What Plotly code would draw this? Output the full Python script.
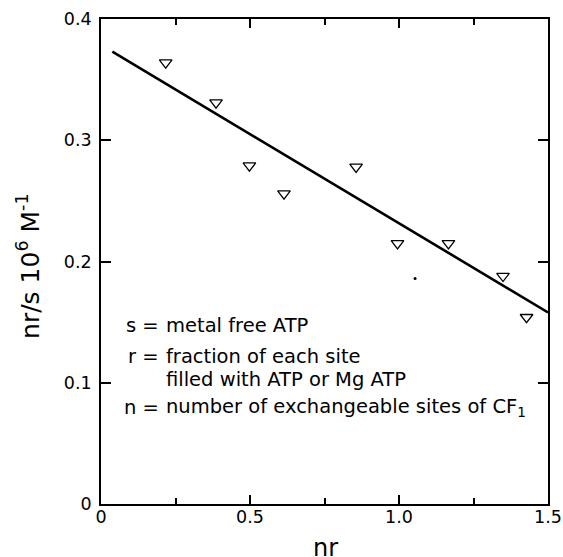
import plotly.graph_objects as go

# Data
nr_pts = [0.217, 0.386, 0.498, 0.614, 0.856, 0.995, 1.166, 1.349, 1.428]
nrs_pts = [0.364, 0.331, 0.279, 0.256, 0.278, 0.215, 0.215, 0.188, 0.154]
dot_x = [1.054]
dot_y = [0.186]
fit_x = [0.038, 1.5]
fit_y = [0.373, 0.158]

x_ticks = [0, 0.5, 1.0, 1.5]
x_tick_text = ["0", "0.5", "1.0", "1.5"]
y_ticks = [0, 0.1, 0.2, 0.3, 0.4]
y_tick_text = ["0", "0.1", "0.2", "0.3", "0.4"]

legend_lhs = ["s =", "r =", "", "n ="]
legend_rhs = ["metal free ATP", "fraction of each site", "filled with ATP or Mg ATP",
              "number of exchangeable sites of CF<sub>1</sub>"]
legend_y = [0.1470, 0.1220, 0.1030, 0.0795]

FONT = "DejaVu Sans, Verdana, sans-serif"

fig = go.Figure()
fig.add_trace(go.Scatter(x=fit_x, y=fit_y, mode="lines",
                         line=dict(color="black", width=2.6), showlegend=False))
fig.add_trace(go.Scatter(x=nr_pts, y=nrs_pts, mode="markers",
                         marker=dict(symbol="triangle-down-open", size=11,
                                     color="black", line=dict(width=1.3, color="black")),
                         showlegend=False))
fig.add_trace(go.Scatter(x=dot_x, y=dot_y, mode="markers",
                         marker=dict(symbol="circle", size=3, color="black"),
                         showlegend=False))

for lhs, rhs, yv in zip(legend_lhs, legend_rhs, legend_y):
    if lhs:
        fig.add_annotation(x=0.2000, y=yv, xref="x", yref="y", text=lhs,
                           xanchor="right", yanchor="middle", showarrow=False,
                           font=dict(family=FONT, size=19.5, color="black"))
    fig.add_annotation(x=0.2114, y=yv, xref="x", yref="y", text=rhs,
                       xanchor="left", yanchor="middle", showarrow=False,
                       font=dict(family=FONT, size=19.5, color="black"))

fig.add_annotation(x=-0.162, y=0.490, xref="paper", yref="paper",
                   text="nr/s 10<sup>6</sup> M<sup>-1</sup>", textangle=-90,
                   xanchor="center", yanchor="middle", showarrow=False,
                   font=dict(family=FONT, size=25, color="black"))
fig.add_annotation(x=0.503, y=-0.0907, xref="paper", yref="paper", text="nr",
                   xanchor="center", yanchor="middle", showarrow=False,
                   font=dict(family=FONT, size=24, color="black"))

fig.update_xaxes(range=[0, 1.5], tickvals=x_ticks, ticktext=x_tick_text,
                 ticks="inside", ticklen=9, tickwidth=1.5, tickcolor="black",
                 showline=True, linecolor="black", linewidth=1.8, mirror="ticks",
                 showgrid=False, zeroline=False, automargin=False,
                 ticklabelstandoff=-4,
                 minor=dict(dtick=0.25, tick0=0, ticks="inside", ticklen=6,
                            tickwidth=1.5, tickcolor="black", showgrid=False),
                 tickfont=dict(family=FONT, size=17.5, color="black"))
fig.update_yaxes(range=[0, 0.4], tickvals=y_ticks, ticktext=y_tick_text,
                 ticks="inside", ticklen=10, tickwidth=1.5, tickcolor="black",
                 showline=True, linecolor="black", linewidth=1.8, mirror="ticks",
                 showgrid=False, zeroline=False, automargin=False,
                 ticklabelstandoff=4,
                 tickfont=dict(family=FONT, size=17.5, color="black"))

fig.update_layout(width=563, height=557, margin=dict(l=101, r=15, t=19, b=53),
                  plot_bgcolor="white", paper_bgcolor="white", autosize=False)

fig.write_html("out.html", config={"responsive": False})
